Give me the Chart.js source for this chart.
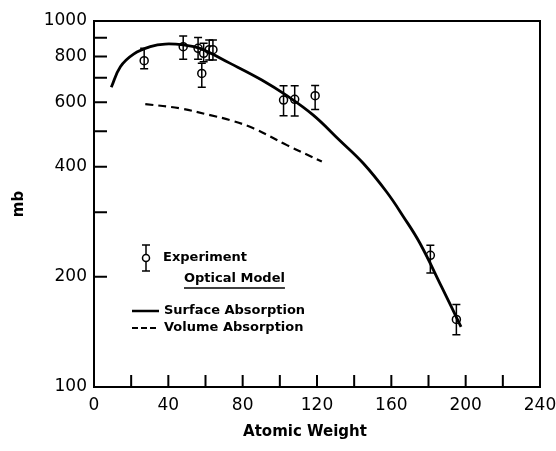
<!DOCTYPE html>
<html>
<head>
<meta charset="utf-8">
<script src="https://cdn.jsdelivr.net/npm/chart.js@4"></script>
<style>
  body { margin: 0; background: #fff; }
  #wrap { width: 556px; height: 451px; }
</style>
</head>
<body>
<div id="wrap"><canvas id="grafico"></canvas></div>
<script>
// experiment points (atomic weight, cross section in mb, error bar ends)
const expA = [27, 48, 56, 59, 58, 62, 64, 102, 108, 119, 181, 195];
const expMb = [779, 851, 842, 816, 719, 835, 835, 608, 611, 625, 229, 153];
const expHigh = [842, 910, 902, 869, 767, 887, 887, 665, 665, 666, 244, 168];
const expLow = [740, 786, 786, 774, 659, 782, 782, 551, 550, 573, 205, 139];

// optical model, surface absorption
const surfA = [9.3, 14.2, 21.3, 30.3, 38.3, 48.2, 57, 73.3, 90.3, 103.8, 118, 132, 145, 157.5, 166.5, 175.4, 187, 197.5];
const surfMb = [659, 750, 812, 851, 865, 860, 842, 766, 690, 625, 553, 473, 408, 341, 292, 247, 188, 146];

// optical model, volume absorption
const volA = [27.6, 46.4, 62.5, 73.3, 85.8, 103.8, 122.6];
const volMb = [593, 577, 553, 536, 509, 458, 413];

const yTicks = [100, 200, 300, 400, 500, 600, 700, 800, 900, 1000];
const yLabels = [100, 200, 400, 600, 800, 1000];
const xLabels = [0, 40, 80, 120, 160, 200, 240];

function pares(xs, ys) {
    return xs.map((x, i) => ({ x: x, y: ys[i] }));
}

const moldura = {
    id: 'moldura',
    afterDatasetsDraw(chart) {
        const ctx = chart.ctx;
        const a = chart.chartArea;
        const sx = chart.scales.x;
        const sy = chart.scales.y;
        ctx.save();
        ctx.strokeStyle = '#000';

        // error bars
        ctx.lineWidth = 1.5;
        expA.forEach((A, i) => {
            const px = sx.getPixelForValue(A);
            const top = sy.getPixelForValue(expHigh[i]);
            const bot = sy.getPixelForValue(expLow[i]);
            ctx.beginPath();
            ctx.moveTo(px, top); ctx.lineTo(px, bot);
            ctx.moveTo(px - 4, top); ctx.lineTo(px + 4, top);
            ctx.moveTo(px - 4, bot); ctx.lineTo(px + 4, bot);
            ctx.stroke();
        });

        // frame
        ctx.lineWidth = 2;
        ctx.strokeRect(a.left, a.top, a.right - a.left, a.bottom - a.top);

        // inward ticks
        ctx.beginPath();
        sy.ticks.forEach(t => {
            if (t.value <= 100 || t.value >= 1000) return;
            const py = sy.getPixelForValue(t.value);
            ctx.moveTo(a.left, py); ctx.lineTo(a.left + 13, py);
        });
        sx.ticks.forEach(t => {
            if (t.value <= 0 || t.value >= 240) return;
            const px = sx.getPixelForValue(t.value);
            ctx.moveTo(px, a.bottom); ctx.lineTo(px, a.bottom - 12);
        });
        ctx.stroke();

        // x axis title, a bit left of centre like the original
        ctx.fillStyle = '#000';
        ctx.textBaseline = 'middle';
        ctx.textAlign = 'center';
        ctx.font = 'bold 15px "DejaVu Sans"';
        ctx.fillText('Atomic Weight', 305, 432);
        ctx.textAlign = 'left';

        // legend
        ctx.font = 'bold 13px "DejaVu Sans"';
        ctx.lineWidth = 1.5;
        ctx.beginPath();
        ctx.moveTo(146, 245); ctx.lineTo(146, 271);
        ctx.moveTo(142, 245); ctx.lineTo(150, 245);
        ctx.moveTo(142, 271); ctx.lineTo(150, 271);
        ctx.stroke();
        ctx.beginPath();
        ctx.arc(146, 258, 3.5, 0, Math.PI * 2);
        ctx.fillStyle = '#fff';
        ctx.fill();
        ctx.stroke();
        ctx.fillStyle = '#000';
        ctx.fillText('Experiment', 163, 258);

        const w = ctx.measureText('Optical Model').width;
        ctx.fillText('Optical Model', 184, 279);
        ctx.beginPath();
        ctx.moveTo(184, 288); ctx.lineTo(184 + w, 288);
        ctx.stroke();

        ctx.lineWidth = 2.5;
        ctx.beginPath();
        ctx.moveTo(132, 311); ctx.lineTo(159, 311);
        ctx.stroke();
        ctx.fillText('Surface Absorption', 164, 311);

        ctx.lineWidth = 2;
        ctx.setLineDash([6, 3]);
        ctx.beginPath();
        ctx.moveTo(132, 328); ctx.lineTo(159, 328);
        ctx.stroke();
        ctx.setLineDash([]);
        ctx.fillText('Volume Absorption', 164, 328);
        ctx.restore();
    }
};

const grafico = new Chart(document.querySelector('#grafico'), {
    type: 'scatter',
    data: {
        datasets: [
            {
                label: 'Surface Absorption',
                data: pares(surfA, surfMb),
                showLine: true,
                borderColor: '#000',
                borderWidth: 2.8,
                pointRadius: 0,
                tension: 0.4
            },
            {
                label: 'Volume Absorption',
                data: pares(volA, volMb),
                showLine: true,
                borderColor: '#000',
                borderWidth: 2.2,
                borderDash: [8, 5],
                pointRadius: 0,
                tension: 0.4
            },
            {
                label: 'Experiment',
                data: pares(expA, expMb),
                showLine: false,
                pointRadius: 4,
                pointBackgroundColor: '#fff',
                pointBorderColor: '#000',
                pointBorderWidth: 1.5
            }
        ]
    },
    options: {
        responsive: true,
        maintainAspectRatio: false,
        animation: false,
        layout: { padding: { top: 21, right: 16, left: 0, bottom: 0 } },
        plugins: {
            legend: { display: false },
            tooltip: { enabled: false }
        },
        scales: {
            x: {
                type: 'linear',
                min: 0,
                max: 240,
                grid: { display: false, drawTicks: false },
                border: { display: false },
                afterBuildTicks: s => { s.ticks = []; for (let v = 0; v <= 240; v += 20) s.ticks.push({ value: v }); },
                afterFit: s => { s.height = 64; s.paddingLeft = 0; s.paddingRight = 0; },
                ticks: {
                    color: '#000',
                    font: { family: 'DejaVu Sans', size: 17 },
                    padding: 8,
                    maxRotation: 0,
                    autoSkip: false,
                    callback: v => xLabels.includes(v) ? String(v) : ''
                }
            },
            y: {
                type: 'logarithmic',
                min: 100,
                max: 1000,
                grid: { display: false, drawTicks: false },
                border: { display: false },
                afterBuildTicks: s => { s.ticks = yTicks.map(v => ({ value: v })); },
                afterFit: s => { s.width = 94; s.paddingTop = 0; s.paddingBottom = 0; },
                ticks: {
                    color: '#000',
                    font: { family: 'DejaVu Sans', size: 17 },
                    padding: 7,
                    autoSkip: false,
                    callback: v => yLabels.includes(v) ? String(v) : ''
                },
                title: {
                    display: true,
                    text: 'mb',
                    color: '#000',
                    font: { family: 'DejaVu Sans', size: 15, weight: 'bold' },
                    padding: { top: 10, bottom: 0 }
                }
            }
        }
    },
    plugins: [moldura]
});
</script>
</body>
</html>
